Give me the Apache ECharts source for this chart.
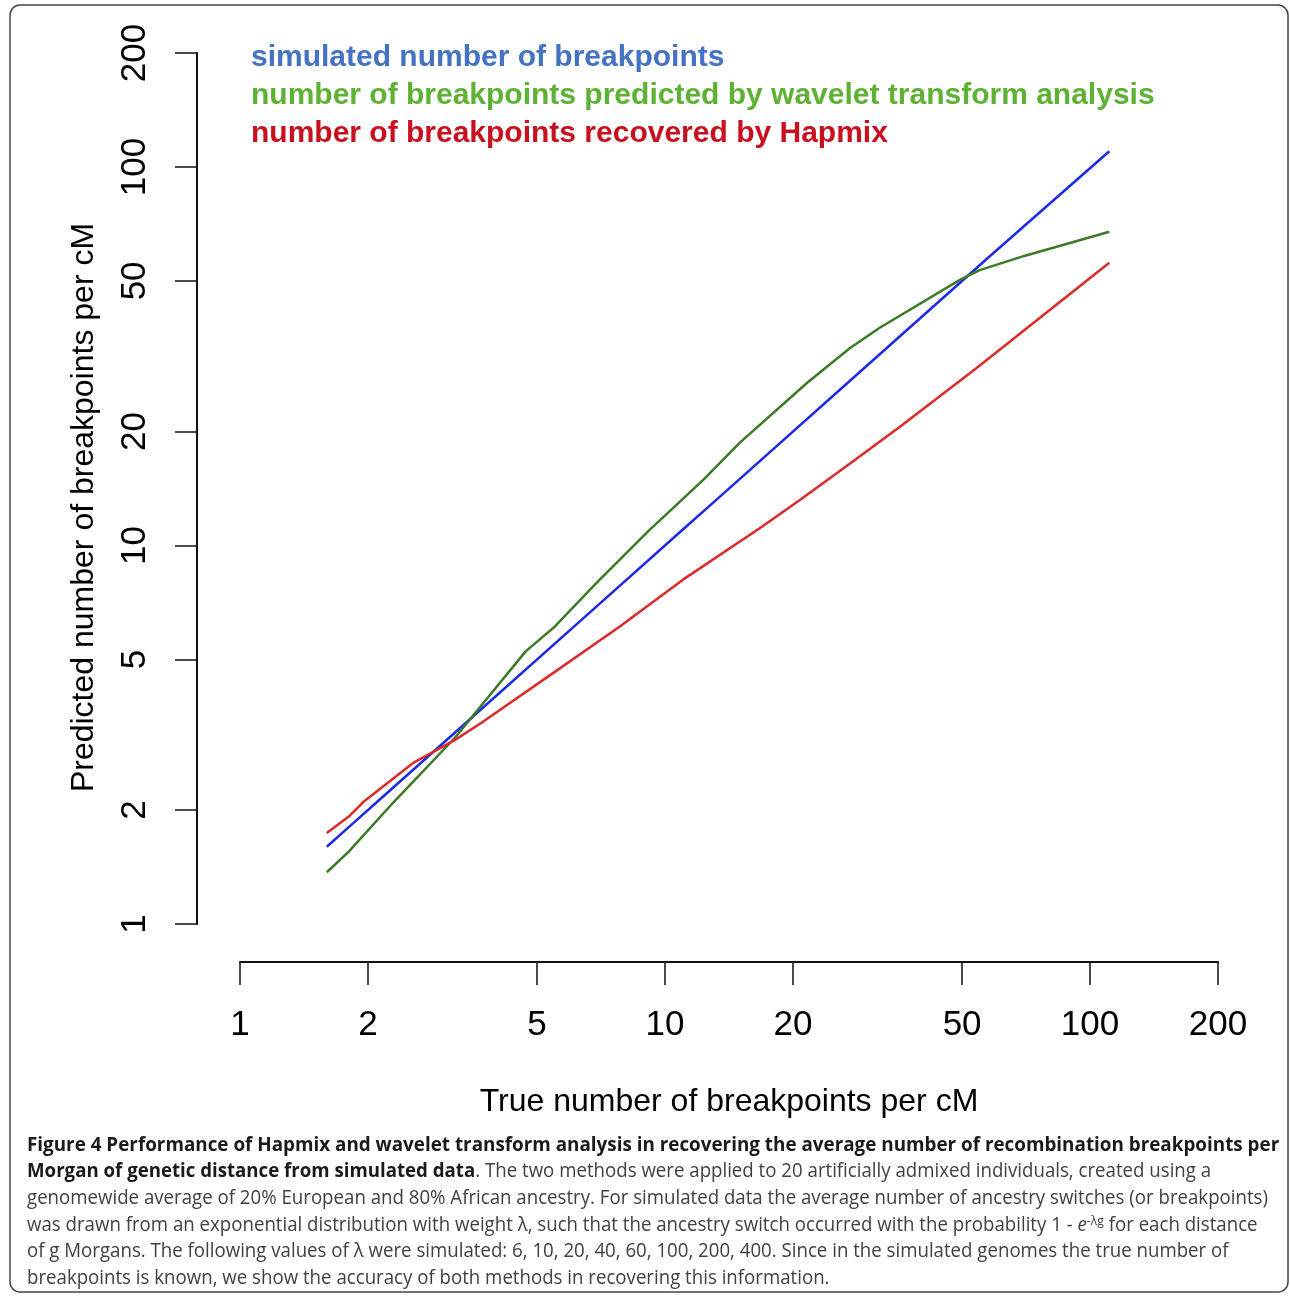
<!DOCTYPE html>
<html><head><meta charset="utf-8">
<script src="https://cdn.jsdelivr.net/npm/echarts@6/dist/echarts.min.js"></script>
<style>html,body{margin:0;padding:0;background:#fff}#main{width:1290px;height:1297px}</style>
</head><body><div id="main"></div>
<script>
// ---- data ----
const xTicks = [1, 2, 5, 10, 20, 50, 100, 200];
const yTicks = [1, 2, 5, 10, 20, 50, 100, 200];

const simulatedX = [1.6, 1.8, 2.1, 3.3, 7.0, 11, 13, 15, 32, 58, 111];
const simulatedY = [1.6, 1.8, 2.1, 3.3, 7.0, 11, 13, 15, 32, 58, 110];

const waveletX = [1.6, 1.8, 2.3, 3.2, 4.7, 5.5, 7.0, 9.2, 12.3, 15, 21.6, 27.3, 32, 49.4, 55, 70, 111];
const waveletY = [1.37, 1.55, 2.10, 3.10, 5.25, 6.1, 8.1, 11.0, 14.9, 18.7, 26.9, 33.3, 37.6, 50.3, 53.4, 58.2, 67.4];

const hapmixX = [1.6, 1.8, 1.95, 2.55, 3.2, 3.7, 5.45, 7.8, 11, 16.7, 20.8, 27.3, 35.7, 54, 111];
const hapmixY = [1.74, 1.92, 2.10, 2.66, 3.06, 3.40, 4.60, 6.09, 8.11, 11.1, 13.2, 16.5, 20.6, 29.4, 55.8];

const seriesNames = [
  'simulated number of breakpoints',
  'number of breakpoints predicted by wavelet transform analysis',
  'number of breakpoints recovered by Hapmix'
];

const captionLines = [
  [['b', 'Figure 4 Performance of Hapmix and wavelet transform analysis in recovering the average number of recombination breakpoints per']],
  [['b', 'Morgan of genetic distance from simulated data'], ['r', '. The two methods were applied to 20 artificially admixed individuals, created using a']],
  [['r', 'genomewide average of 20% European and 80% African ancestry. For simulated data the average number of ancestry switches (or breakpoints)']],
  [['r', 'was drawn from an exponential distribution with weight λ, such that the ancestry switch occurred with the probability 1 - '], ['i', 'e'], ['s', '-λg'], ['r', ' for each distance']],
  [['r', 'of g Morgans. The following values of λ were simulated: 6, 10, 20, 40, 60, 100, 200, 400. Since in the simulated genomes the true number of']],
  [['r', 'breakpoints is known, we show the accuracy of both methods in recovering this information.']]
];

// ---- styling ----
const AX_FONT = '"Liberation Sans", Arial, sans-serif';
const CAP_FONT = '"Open Sans", "Noto Sans", sans-serif';
const lineColors = ['#1a2ae8', '#3c7a28', '#dc2a2a'];
const legendColors = ['#4472c4', '#5db233', '#c8101e'];

const pair = (xs, ys) => xs.map((v, i) => [v, ys[i]]);

// caption horizontal scale from measured width
const mctx = document.createElement('canvas').getContext('2d');
mctx.font = '20px "Open Sans"';
const capScale = 1241 / mctx.measureText(captionLines[2][0][1]).width;

const capRich = {
  b: { fontFamily: CAP_FONT, fontSize: 20, fontWeight: 'bold', fill: '#1a1a1a' },
  r: { fontFamily: CAP_FONT, fontSize: 20, fill: '#404040' },
  i: { fontFamily: CAP_FONT, fontSize: 20, fontStyle: 'italic', fill: '#404040' },
  s: { fontFamily: CAP_FONT, fontSize: 13, fill: '#404040', verticalAlign: 'top' }
};
const capY0 = 1145, capDY = 26.6;
const captionGraphics = captionLines.map((parts, k) => ({
  type: 'text',
  x: 27, y: capY0 + k * capDY,
  scaleX: k === 0 ? capScale * 1.01 : capScale,
  style: {
    text: parts.map(p => '{' + p[0] + '|' + p[1] + '}').join(''),
    rich: capRich,
    verticalAlign: 'middle',
    align: 'left'
  }
}));

const chart = echarts.init(document.getElementById('main'), null, { renderer: 'canvas' });
chart.setOption({
  animation: false,
  backgroundColor: '#fff',
  grid: { left: 240, right: 72, top: 53, bottom: 373, containLabel: false },
  legend: {
    orient: 'vertical', left: 241, top: 34,
    icon: 'none', itemWidth: 0, itemHeight: 38, itemGap: 0,
    selectedMode: false,
    textStyle: { fontFamily: AX_FONT, fontSize: 30, fontWeight: 'bold', lineHeight: 38 },
    data: seriesNames.map((n, i) => ({ name: n, textStyle: { color: legendColors[i] } }))
  },
  xAxis: {
    type: 'log', logBase: 10, min: 1, max: 200, offset: 38,
    axisLine: { show: true, lineStyle: { color: '#111', width: 2 } },
    axisTick: { show: true, length: 23, customValues: xTicks, lineStyle: { color: '#111', width: 1.5 } },
    axisLabel: { customValues: xTicks, margin: 46, fontSize: 35, fontFamily: AX_FONT, color: '#000' },
    minorTick: { show: false }, splitLine: { show: false },
    name: 'True number of breakpoints per cM', nameLocation: 'middle', nameGap: 124,
    nameTextStyle: { fontSize: 32, fontFamily: AX_FONT, color: '#000' }
  },
  yAxis: {
    type: 'log', logBase: 10, min: 1, max: 200, offset: 43,
    axisLine: { show: true, lineStyle: { color: '#111', width: 2 } },
    axisTick: { show: true, length: 22, customValues: yTicks, lineStyle: { color: '#111', width: 1.5 } },
    axisLabel: { customValues: yTicks, rotate: 90, margin: 44, fontSize: 35, fontFamily: AX_FONT, color: '#000' },
    minorTick: { show: false }, splitLine: { show: false },
    name: 'Predicted number of breakpoints per cM', nameLocation: 'middle', nameGap: 97,
    nameTextStyle: { fontSize: 32, fontFamily: AX_FONT, color: '#000', padding: [0, 38, 0, 0] }
  },
  series: [
    { name: seriesNames[0], type: 'line', data: pair(simulatedX, simulatedY), showSymbol: false, color: lineColors[0], lineStyle: { width: 2.5, color: lineColors[0] } },
    { name: seriesNames[1], type: 'line', data: pair(waveletX, waveletY), showSymbol: false, color: lineColors[1], lineStyle: { width: 2.5, color: lineColors[1] } },
    { name: seriesNames[2], type: 'line', data: pair(hapmixX, hapmixY), showSymbol: false, color: lineColors[2], lineStyle: { width: 2.5, color: lineColors[2] } }
  ],
  graphic: [
    { type: 'rect', shape: { x: 10, y: 5, width: 1278, height: 1287, r: 10 }, style: { fill: 'none', stroke: '#444', lineWidth: 1.5 }, z: -1 }
  ].concat(captionGraphics)
});
</script>
</body></html>
